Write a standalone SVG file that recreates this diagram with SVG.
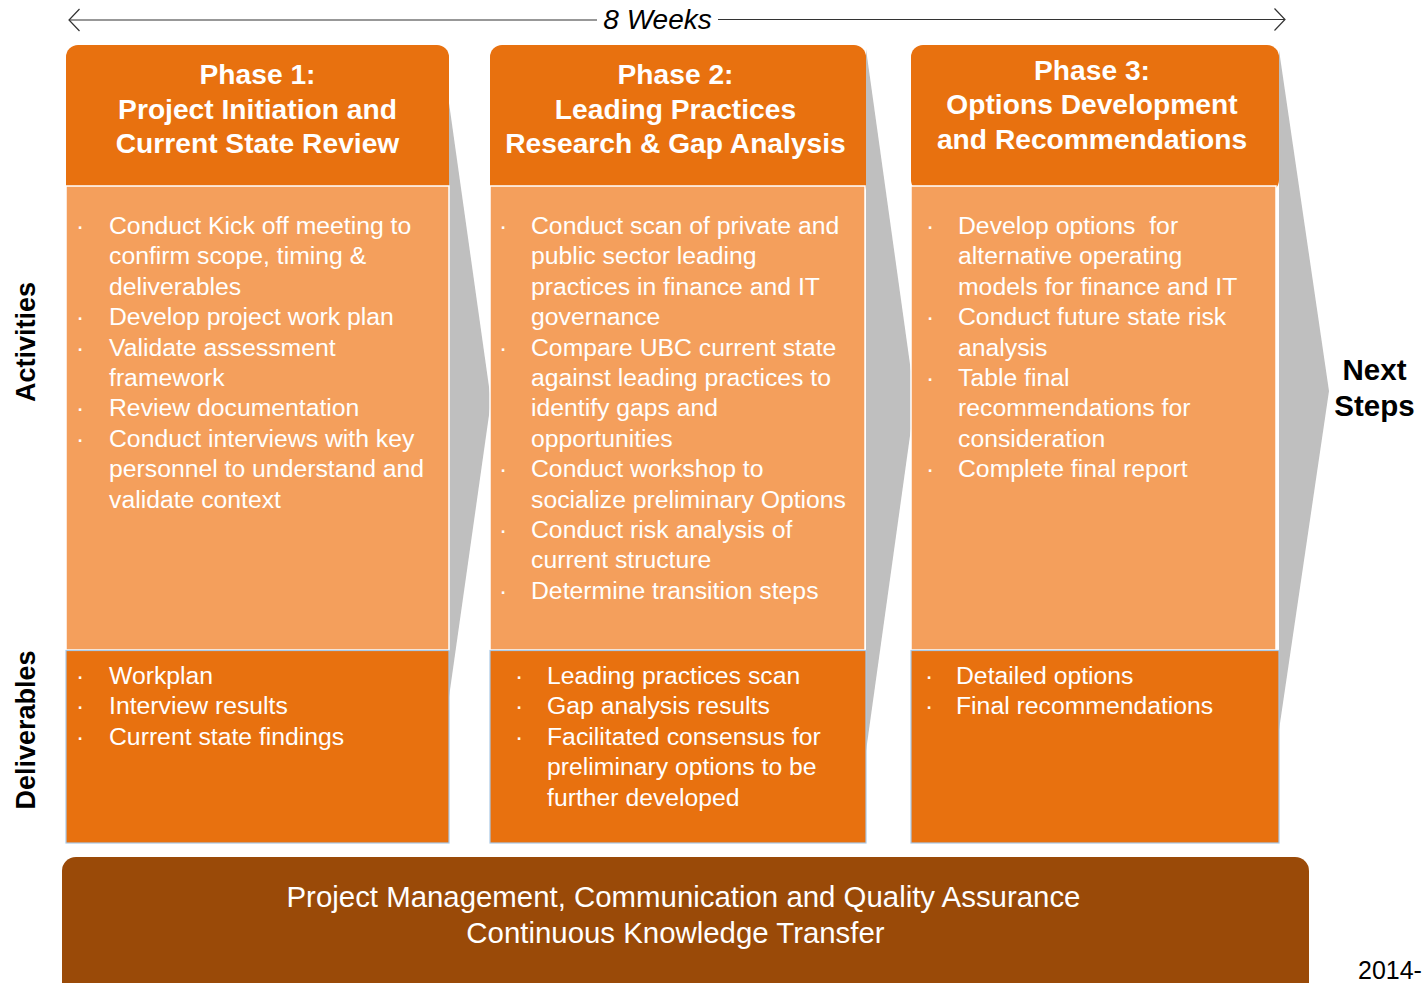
<svg xmlns="http://www.w3.org/2000/svg" width="1424" height="983" viewBox="0 0 1424 983">
  <style>
    text { font-family: "Liberation Sans", Arial, sans-serif; }
    .hdr { fill: #E8710F; }
    .body { fill: #F49F5C; stroke: #FFFFFF; stroke-width: 1.5; }
    .deliv { fill: #E8710F; stroke: #A9C9E6; stroke-width: 1.2; }
    .chev { fill: #BFBFBF; }
    .title { font-size: 28.2px; font-weight: bold; fill: #FFFFFF; text-anchor: middle; }
    .item { font-size: 24.75px; fill: #FFFFFF; }
    .dot { font-size: 24.75px; fill: #FFFFFF; text-anchor: middle; }
    .side { font-size: 27px; font-weight: bold; fill: #000000; text-anchor: middle; }
    .outcome { font-size: 29.5px; font-weight: bold; fill: #000000; text-anchor: middle; }
    .pm { font-size: 29.4px; fill: #FFFFFF; text-anchor: middle; }
    .span { stroke: #333333; stroke-width: 1.2; fill: none; }
  </style>
  <defs>
    <marker id="openHead" viewBox="0 0 12 24" refX="11" refY="12" markerWidth="12" markerHeight="24" markerUnits="userSpaceOnUse" orient="auto-start-reverse">
      <path d="M0.5,1 L11,12 L0.5,23" fill="none" stroke="#333333" stroke-width="1.2"/>
    </marker>
  </defs>

  <rect width="1424" height="983" fill="#FFFFFF"/>

  <!-- duration span across all phases -->
  <g id="duration">
    <line class="span" x1="69" y1="20" x2="597" y2="20" marker-start="url(#openHead)"/>
    <line class="span" x1="718" y1="19.5" x2="1285" y2="19.5" marker-end="url(#openHead)"/>
    <text x="657.5" y="29" font-size="28px" font-style="italic" fill="#000000" text-anchor="middle">8 Weeks</text>
  </g>

  <!-- grey chevrons pointing from each phase to the next -->
  <g id="connectors">
    <polygon class="chev" points="449,103 491,401 449,697"/>
    <polygon class="chev" points="866,49 915,400 866,751"/>
    <polygon class="chev" points="1279,50 1329,391 1279,730"/>
  </g>

  <!-- row labels -->
  <g id="row-labels">
    <text class="side" transform="translate(35,342) rotate(-90)">Activities</text>
    <text class="side" transform="translate(35,730) rotate(-90)">Deliverables</text>
  </g>

  <!-- Phase 1 -->
  <g id="phase1">
    <rect class="hdr" x="66" y="45" width="383" height="152" rx="12"/>
    <rect class="body" x="66" y="186" width="383" height="464"/>
    <rect class="deliv" x="66" y="650.5" width="383" height="192.5"/>
    <text class="title"><tspan x="257.5" y="84">Phase 1:</tspan><tspan x="257.5" y="118.5">Project Initiation and</tspan><tspan x="257.5" y="153">Current State Review</tspan></text>
    <text class="dot"><tspan x="80" y="234">·</tspan><tspan x="80" y="325.2">·</tspan><tspan x="80" y="355.6">·</tspan><tspan x="80" y="416.4">·</tspan><tspan x="80" y="446.8">·</tspan></text>
    <text class="item">
      <tspan x="109" y="234">Conduct Kick off meeting to</tspan>
      <tspan x="109" y="264.4">confirm scope, timing &amp;</tspan>
      <tspan x="109" y="294.8">deliverables</tspan>
      <tspan x="109" y="325.2">Develop project work plan</tspan>
      <tspan x="109" y="355.6">Validate assessment</tspan>
      <tspan x="109" y="386">framework</tspan>
      <tspan x="109" y="416.4">Review documentation</tspan>
      <tspan x="109" y="446.8">Conduct interviews with key</tspan>
      <tspan x="109" y="477.2">personnel to understand and</tspan>
      <tspan x="109" y="507.6">validate context</tspan>
    </text>
    <text class="dot"><tspan x="80" y="684">·</tspan><tspan x="80" y="714.4">·</tspan><tspan x="80" y="744.8">·</tspan></text>
    <text class="item">
      <tspan x="109" y="684">Workplan</tspan>
      <tspan x="109" y="714.4">Interview results</tspan>
      <tspan x="109" y="744.8">Current state findings</tspan>
    </text>
  </g>

  <!-- Phase 2 -->
  <g id="phase2">
    <rect class="hdr" x="490" y="45" width="376" height="152" rx="12"/>
    <rect class="body" x="490" y="186" width="375" height="464"/>
    <rect class="deliv" x="490" y="650.5" width="376" height="192.5"/>
    <text class="title"><tspan x="675.5" y="84">Phase 2:</tspan><tspan x="675.5" y="118.5">Leading Practices</tspan><tspan x="675.5" y="153">Research &amp; Gap Analysis</tspan></text>
    <text class="dot"><tspan x="503" y="234">·</tspan><tspan x="503" y="355.6">·</tspan><tspan x="503" y="477.2">·</tspan><tspan x="503" y="538">·</tspan><tspan x="503" y="598.8">·</tspan></text>
    <text class="item">
      <tspan x="531" y="234">Conduct scan of private and</tspan>
      <tspan x="531" y="264.4">public sector leading</tspan>
      <tspan x="531" y="294.8">practices in finance and IT</tspan>
      <tspan x="531" y="325.2">governance</tspan>
      <tspan x="531" y="355.6">Compare UBC current state</tspan>
      <tspan x="531" y="386">against leading practices to</tspan>
      <tspan x="531" y="416.4">identify gaps and</tspan>
      <tspan x="531" y="446.8">opportunities</tspan>
      <tspan x="531" y="477.2">Conduct workshop to</tspan>
      <tspan x="531" y="507.6">socialize preliminary Options</tspan>
      <tspan x="531" y="538">Conduct risk analysis of</tspan>
      <tspan x="531" y="568.4">current structure</tspan>
      <tspan x="531" y="598.8">Determine transition steps</tspan>
    </text>
    <text class="dot"><tspan x="519" y="684">·</tspan><tspan x="519" y="714.4">·</tspan><tspan x="519" y="744.8">·</tspan></text>
    <text class="item">
      <tspan x="547" y="684">Leading practices scan</tspan>
      <tspan x="547" y="714.4">Gap analysis results</tspan>
      <tspan x="547" y="744.8">Facilitated consensus for</tspan>
      <tspan x="547" y="775.2">preliminary options to be</tspan>
      <tspan x="547" y="805.6">further developed</tspan>
    </text>
  </g>

  <!-- Phase 3 -->
  <g id="phase3">
    <rect class="hdr" x="911" y="45" width="368" height="147" rx="12"/>
    <rect class="body" x="911" y="186" width="365" height="464"/>
    <rect class="deliv" x="911" y="650.5" width="368" height="192.5"/>
    <text class="title"><tspan x="1092" y="79.5">Phase 3:</tspan><tspan x="1092" y="114">Options Development</tspan><tspan x="1092" y="148.5">and Recommendations</tspan></text>
    <text class="dot"><tspan x="930" y="234">·</tspan><tspan x="930" y="325.2">·</tspan><tspan x="930" y="386">·</tspan><tspan x="930" y="477.2">·</tspan></text>
    <text class="item" xml:space="preserve">
      <tspan x="958" y="234">Develop options  for</tspan>
      <tspan x="958" y="264.4">alternative operating</tspan>
      <tspan x="958" y="294.8">models for finance and IT</tspan>
      <tspan x="958" y="325.2">Conduct future state risk</tspan>
      <tspan x="958" y="355.6">analysis</tspan>
      <tspan x="958" y="386">Table final</tspan>
      <tspan x="958" y="416.4">recommendations for</tspan>
      <tspan x="958" y="446.8">consideration</tspan>
      <tspan x="958" y="477.2">Complete final report</tspan>
    </text>
    <text class="dot"><tspan x="929" y="684">·</tspan><tspan x="929" y="714.4">·</tspan></text>
    <text class="item">
      <tspan x="956" y="684">Detailed options</tspan>
      <tspan x="956" y="714.4">Final recommendations</tspan>
    </text>
  </g>

  <!-- outcome -->
  <g id="next-steps">
    <text class="outcome"><tspan x="1374.5" y="380">Next</tspan><tspan x="1374.5" y="415.5">Steps</tspan></text>
  </g>

  <!-- cross-phase workstream bar -->
  <g id="workstream">
    <rect x="62" y="857" width="1247" height="150" rx="14" fill="#9A4A08"/>
    <text class="pm"><tspan x="683.5" y="907">Project Management, Communication and Quality Assurance</tspan><tspan x="675.5" y="942.5">Continuous Knowledge Transfer</tspan></text>
  </g>

  <text x="1358" y="979" font-size="25px" fill="#000000">2014-</text>
</svg>
